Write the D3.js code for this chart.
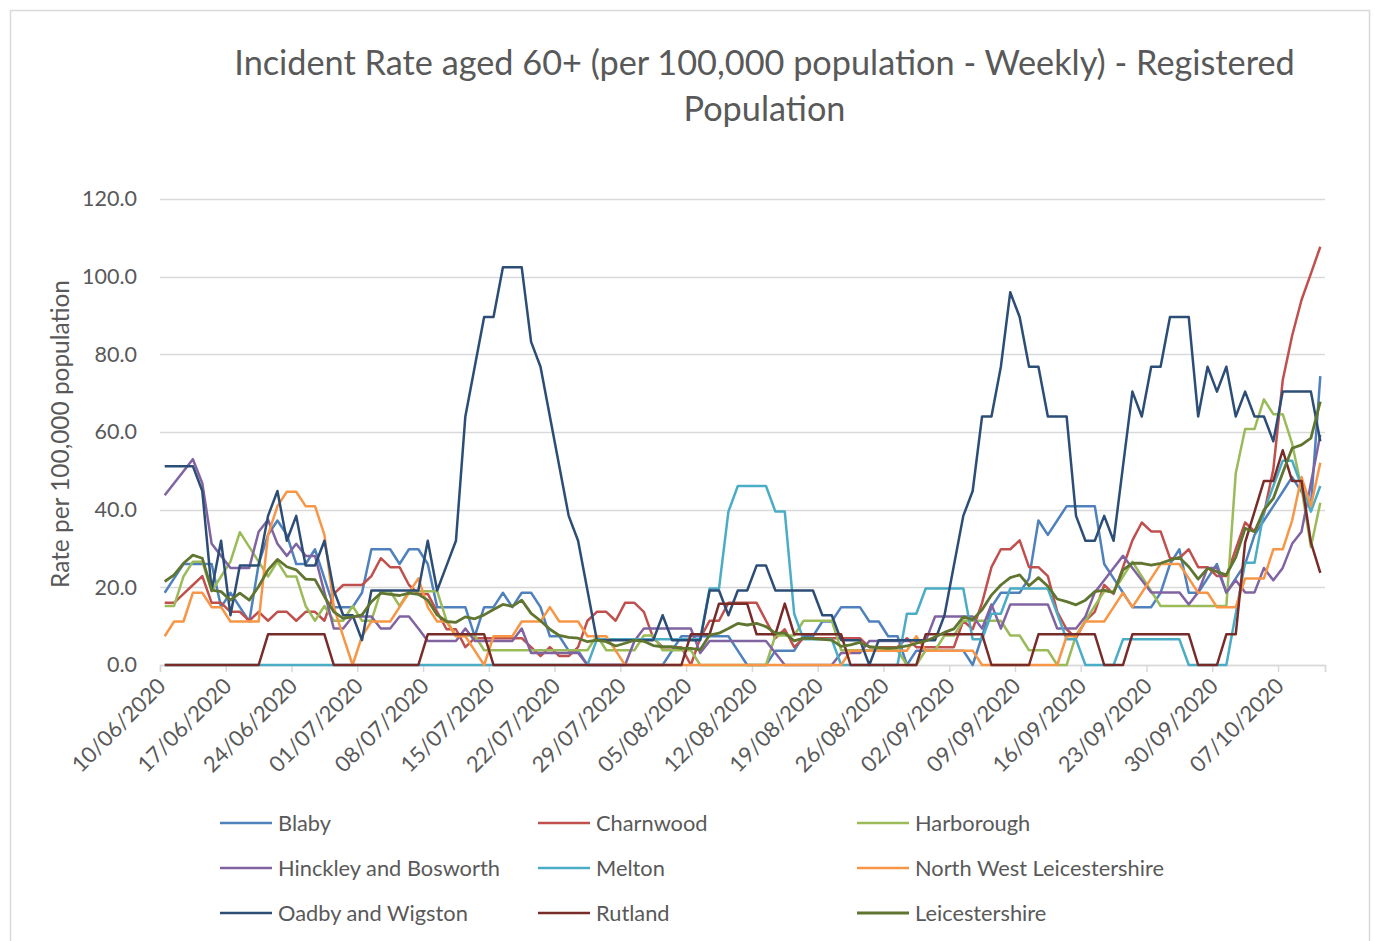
<!DOCTYPE html>
<html>
<head>
<meta charset="utf-8">
<script src="https://cdn.jsdelivr.net/npm/d3@7"></script>
<style>
  html, body { margin: 0; padding: 0; background: #ffffff; }
  svg { display: block; }
</style>
</head>
<body>
<svg id="chart" width="1375" height="941"></svg>
<script>
// ---------------- DATA ----------------
const titleLines = ["Incident Rate aged 60+ (per 100,000 population - Weekly) - Registered", "Population"];
const yAxisTitle = "Rate per 100,000 population";
const yTicks = [0, 20, 40, 60, 80, 100, 120];
const firstDay = new Date(2020, 5, 10);   // 10/06/2020
const dayAfterLast = new Date(2020, 9, 12); // data runs to 11/10/2020

const seriesNames = ["Blaby", "Charnwood", "Harborough", "Hinckley and Bosworth", "Melton",
  "North West Leicestershire", "Oadby and Wigston", "Rutland", "Leicestershire"];
const seriesColors = ["#4F81BD", "#C0504D", "#9BBB59", "#8064A2", "#4BACC6",
  "#F79646", "#2C4D75", "#772C2A", "#5F7530"];

const blaby = [18.6,22.3,26,26,26,26,14.9,18.6,14.9,11.2,
  26,33.5,37.2,33.5,26,26,29.8,22.3,14.9,14.9,
  14.9,18.6,29.8,29.8,29.8,26,29.8,29.8,26,14.9,
  14.9,14.9,14.9,7.4,14.9,14.9,18.6,14.9,18.6,18.6,
  14.9,7.4,7.4,3.7,3.7,0,0,0,0,0,
  0,0,0,0,3.7,7.4,7.4,7.4,7.4,7.4,
  7.4,3.7,0,0,0,3.7,3.7,3.7,7.4,7.4,
  11.2,11.2,14.9,14.9,14.9,11.2,11.2,7.4,7.4,0,
  3.7,3.7,3.7,3.7,3.7,3.7,0,7.4,14.9,18.6,
  18.6,18.6,22.3,37.2,33.5,37.2,40.9,40.9,40.9,40.9,
  26,22.3,18.6,14.9,14.9,14.9,18.6,26,29.8,18.6,
  18.6,22.3,26,18.6,22.3,26,33.5,37.2,40.9,44.6,
  48.4,44.6,40.9,74.4];

const charnwood = [16,16,18.3,20.6,22.9,16,16,13.7,13.7,11.4,
  13.7,11.4,13.7,13.7,11.4,13.7,13.7,11.4,18.3,20.6,
  20.6,20.6,22.9,27.5,25.2,25.2,20.6,18.3,18.3,13.7,
  9.2,9.2,4.6,6.9,6.9,6.9,6.9,6.9,6.9,4.6,
  2.3,4.6,2.3,2.3,4.6,11.4,13.7,13.7,11.4,16,
  16,13.7,6.9,4.6,4.6,4.6,0,6.9,11.4,11.4,
  16,16,16,16,11.4,6.9,9.2,4.6,6.9,6.9,
  6.9,6.9,6.9,6.9,6.9,4.6,4.6,4.6,4.6,6.9,
  4.6,4.6,4.6,4.6,4.6,11.4,9.2,16,25.2,29.8,
  29.8,32.1,25.2,25.2,22.9,13.7,9.2,6.9,11.4,13.7,
  20.6,18.3,25.2,32.1,36.7,34.4,34.4,27.5,27.5,29.8,
  25.2,25.2,22.9,22.9,29.8,36.7,34.4,38.9,50.4,73.3,
  84.8,94,100.8,107.7];

const harborough = [15.2,15.2,22.8,26.6,26.6,19,22.8,26.6,34.2,30.4,
  26.6,22.8,26.6,22.8,22.8,15.2,11.4,15.2,11.4,11.4,
  15.2,11.4,11.4,19,19,15.2,19,19,19,19,
  11.4,7.6,7.6,7.6,3.8,3.8,3.8,3.8,3.8,3.8,
  3.8,3.8,3.8,3.8,3.8,3.8,7.6,3.8,3.8,3.8,
  3.8,7.6,7.6,3.8,3.8,3.8,3.8,0,0,0,
  0,0,0,0,0,7.6,7.6,7.6,11.4,11.4,
  11.4,11.4,3.8,3.8,3.8,3.8,3.8,3.8,3.8,0,
  0,3.8,3.8,7.6,7.6,11.4,11.4,11.4,11.4,11.4,
  7.6,7.6,3.8,3.8,3.8,0,0,7.6,11.4,15.2,
  19,19,22.8,26.6,22.8,19,15.2,15.2,15.2,15.2,
  15.2,15.2,15.2,15.2,49.4,60.8,60.8,68.4,64.6,64.6,
  57,45.6,30.4,41.8];

const hinckley = [43.7,46.8,49.9,53,46.8,31.2,28.1,25,25,25,
  34.3,37.4,31.2,28.1,31.2,28.1,28.1,18.7,9.4,9.4,
  12.5,12.5,12.5,9.4,9.4,12.5,12.5,9.4,6.2,6.2,
  6.2,6.2,9.4,6.2,6.2,6.2,6.2,6.2,9.4,3.1,
  3.1,3.1,3.1,3.1,3.1,0,0,0,0,0,
  6.2,9.4,9.4,9.4,9.4,9.4,9.4,3.1,6.2,6.2,
  6.2,6.2,6.2,6.2,6.2,3.1,0,0,0,0,
  0,0,3.1,3.1,3.1,6.2,6.2,6.2,6.2,6.2,
  6.2,6.2,12.5,12.5,12.5,12.5,12.5,9.4,15.6,9.4,
  15.6,15.6,15.6,15.6,15.6,9.4,9.4,9.4,12.5,18.7,
  21.8,25,28.1,25,21.8,18.7,18.7,18.7,18.7,15.6,
  18.7,25,25,18.7,21.8,18.7,18.7,25,21.8,25,
  31.2,34.3,46.8,59.3];

const melton = [0,0,0,0,0,0,0,0,0,0,
  0,0,0,0,0,0,0,0,0,0,
  0,0,0,0,0,0,0,0,0,0,
  0,0,0,0,0,0,0,0,0,0,
  0,0,0,0,0,0,6.6,6.6,6.6,6.6,
  6.6,6.6,6.6,6.6,6.6,6.6,6.6,6.6,19.7,19.7,
  39.5,46.1,46.1,46.1,46.1,39.5,39.5,13.2,6.6,6.6,
  6.6,6.6,0,0,0,0,0,0,0,13.2,
  13.2,19.7,19.7,19.7,19.7,19.7,6.6,6.6,13.2,13.2,
  19.7,19.7,19.7,19.7,19.7,13.2,6.6,6.6,0,0,
  0,0,6.6,6.6,6.6,6.6,6.6,6.6,6.6,0,
  0,0,0,0,13.2,26.3,26.3,39.5,46.1,52.6,
  52.6,46.1,39.5,46.1];

const northWest = [7.4,11.2,11.2,18.6,18.6,14.9,14.9,11.2,11.2,11.2,
  11.2,33.5,40.9,44.6,44.6,40.9,40.9,33.5,14.9,7.4,
  0,7.4,11.2,11.2,11.2,14.9,18.6,22.3,14.9,11.2,
  11.2,7.4,7.4,3.7,0,7.4,7.4,7.4,11.2,11.2,
  11.2,14.9,11.2,11.2,11.2,7.4,7.4,7.4,3.7,0,
  0,0,0,0,0,0,0,0,0,0,
  0,0,0,0,0,0,0,0,0,0,
  0,0,0,3.7,3.7,3.7,3.7,3.7,3.7,3.7,
  7.4,3.7,3.7,3.7,3.7,3.7,3.7,0,0,0,
  0,0,0,0,0,0,7.4,7.4,11.2,11.2,
  11.2,14.9,18.6,14.9,18.6,22.3,26,26,26,22.3,
  18.6,18.6,14.9,14.9,14.9,22.3,22.3,22.3,29.8,29.8,
  37.2,48.4,40.9,52.1];

const oadby = [51.2,51.2,51.2,51.2,44.8,19.2,32,12.8,25.6,25.6,
  25.6,38.4,44.8,32,38.4,25.6,25.6,32,19.2,12.8,
  12.8,6.4,19.2,19.2,19.2,19.2,19.2,19.2,32,19.2,
  25.6,32,64,76.8,89.6,89.6,102.4,102.4,102.4,83.2,
  76.8,64,51.2,38.4,32,19.2,6.4,6.4,6.4,6.4,
  6.4,6.4,6.4,12.8,6.4,6.4,6.4,6.4,19.2,19.2,
  12.8,19.2,19.2,25.6,25.6,19.2,19.2,19.2,19.2,19.2,
  12.8,12.8,6.4,6.4,6.4,0,6.4,6.4,6.4,6.4,
  6.4,6.4,6.4,12.8,25.6,38.4,44.8,64,64,76.8,
  96,89.6,76.8,76.8,64,64,64,38.4,32,32,
  38.4,32,51.2,70.4,64,76.8,76.8,89.6,89.6,89.6,
  64,76.8,70.4,76.8,64,70.4,64,64,57.6,70.4,
  70.4,70.4,70.4,57.6];

const rutland = [0,0,0,0,0,0,0,0,0,0,
  0,7.9,7.9,7.9,7.9,7.9,7.9,7.9,0,0,
  0,0,0,0,0,0,0,0,7.9,7.9,
  7.9,7.9,7.9,7.9,7.9,0,0,0,0,0,
  0,0,0,0,0,0,0,0,0,0,
  0,0,0,0,0,0,7.9,7.9,7.9,15.8,
  15.8,15.8,15.8,7.9,7.9,7.9,15.8,7.9,7.9,7.9,
  7.9,7.9,7.9,0,0,0,0,0,0,0,
  0,7.9,7.9,7.9,7.9,7.9,7.9,7.9,0,0,
  0,0,0,7.9,7.9,7.9,7.9,7.9,7.9,7.9,
  0,0,0,7.9,7.9,7.9,7.9,7.9,7.9,7.9,
  0,0,0,7.9,7.9,31.6,39.5,47.4,47.4,55.3,
  47.4,47.4,31.6,23.7];

const leicestershire = [21.5,23.2,26.2,28.3,27.5,19.3,18.9,16.7,18.5,16.7,
  20.2,24.5,27.2,25.3,24.5,22.1,22,17.6,13.7,12,
  12.4,12.9,16.3,18.5,18.2,17.9,18.5,18.2,16.7,12.9,
  11.2,11,12.4,11.9,12.9,14.3,15.6,15.1,16.7,13.3,
  11.4,9.2,7.6,7.1,6.9,6,6.4,6,4.9,5.6,
  6.4,6.1,5,4.7,4.7,4.3,4.3,3.9,7.7,8.2,
  9.4,10.7,10.3,10.7,9.9,8.2,8.2,6.2,6.9,6.8,
  6.6,6.4,4.8,5.2,5.8,4.7,4.5,4.3,4.5,4.9,
  5.6,6.2,7.2,8.4,9.3,12.4,11.7,14.2,18,20.6,
  22.5,23.2,20.4,22.5,20.3,17,16.3,15.5,16.7,18.9,
  19.3,18.6,24.5,26.2,26.2,25.7,26.2,27,27.7,25.3,
  22.1,24.9,24,23.2,27.7,35.2,34.3,39.9,42.9,49.5,
  55.8,56.7,58.4,67.8];

const seriesValues = [blaby, charnwood, harborough, hinckley, melton, northWest, oadby, rutland, leicestershire];

// ---------------- DRAWING ----------------
const FONT = "Lato, 'Open Sans', sans-serif";
const TEXT = "#595959";
const GRID = "#D9D9D9";
const svg = d3.select("#chart");

svg.append("rect").attr("x", 10.5).attr("y", 10.5).attr("width", 1359).attr("height", 935)
  .attr("fill", "#fff").attr("stroke", GRID).attr("stroke-width", 1.5);

function fitSize(str, target) {
  const t = svg.append("text").attr("font-family", FONT).attr("font-size", 100).text(str);
  const w = t.node().getComputedTextLength();
  t.remove();
  return 100 * target / w;
}

const days = d3.timeDay.range(firstDay, dayAfterLast);
const weekTicks = d3.timeDay.range(firstDay, dayAfterLast, 7);
const plot = { left: 160, right: 1325, top: 199, bottom: 665 };

const x = d3.scaleTime().domain([firstDay, dayAfterLast]).range([plot.left, plot.right]);
const y = d3.scaleLinear().domain([0, 120]).range([plot.bottom, plot.top]);
const mid = d => d3.timeHour.offset(d, 12);

// title
const titleSize = fitSize(titleLines[0], 1061);
svg.append("g").selectAll("text").data(titleLines).join("text")
  .attr("x", 764.5).attr("y", (d, i) => 63 + i * 46).attr("dy", "0.35em")
  .attr("text-anchor", "middle").attr("font-family", FONT).attr("font-size", titleSize)
  .attr("fill", TEXT).text(d => d);

// gridlines
svg.append("g").selectAll("line").data(yTicks).join("line")
  .attr("x1", plot.left).attr("x2", plot.right)
  .attr("y1", d => Math.round(y(d)) + 0.5).attr("y2", d => Math.round(y(d)) + 0.5)
  .attr("stroke", GRID).attr("stroke-width", 1.5);

// y axis labels
const yTickSize = fitSize("120.0", 55);
const yAxis = d3.axisLeft(y).tickValues(yTicks).tickFormat(d3.format(".1f")).tickSize(0).tickPadding(23);
const yg = svg.append("g").attr("transform", `translate(${plot.left},0)`).call(yAxis);
yg.select(".domain").remove();
yg.selectAll("text").attr("font-family", FONT).attr("font-size", yTickSize).attr("fill", TEXT);

// y axis title
svg.append("text").attr("transform", "translate(60,434) rotate(-90)").attr("dy", "0.35em")
  .attr("text-anchor", "middle").attr("font-family", FONT).attr("font-size", fitSize(yAxisTitle, 308))
  .attr("fill", TEXT).text(yAxisTitle);

// x axis
const xAxis = d3.axisBottom(x).tickValues(weekTicks.concat([dayAfterLast])).tickSize(7).tickFormat("");
const xg = svg.append("g").attr("transform", `translate(0,${plot.bottom})`).call(xAxis);
xg.select(".domain").attr("stroke", GRID).attr("stroke-width", 1.5);
xg.selectAll(".tick line").attr("stroke", GRID).attr("stroke-width", 1.5);

const fmt = d3.timeFormat("%d/%m/%Y");
const xLabelSize = fitSize("10/06/2020", 122);
svg.append("g").selectAll("text").data(weekTicks).join("text")
  .attr("transform", d => `translate(${x(mid(d)) - 3},682) rotate(-45)`)
  .attr("dy", "0.35em").attr("text-anchor", "end")
  .attr("font-family", FONT).attr("font-size", xLabelSize).attr("fill", TEXT)
  .text(d => fmt(d));

// lines
const line = d3.line().x((d, i) => x(mid(days[i]))).y(d => y(d));
svg.append("g").selectAll("path").data(seriesValues).join("path")
  .attr("d", d => line(d)).attr("fill", "none")
  .attr("stroke", (d, i) => seriesColors[i])
  .attr("stroke-width", (d, i) => i === 8 ? 2.8 : 2.5)
  .attr("stroke-linejoin", "round");

// legend
const legendSize = fitSize("Hinckley and Bosworth", 222);
const colX = [220, 538, 857];
const rowY = [823, 868, 913];
const lg = svg.append("g").selectAll("g").data(seriesNames).join("g")
  .attr("transform", (d, i) => `translate(${colX[i % 3]},${rowY[Math.floor(i / 3)]})`);
lg.append("line").attr("x1", 0).attr("x2", 52).attr("y1", 0).attr("y2", 0)
  .attr("stroke", (d, i) => seriesColors[i]).attr("stroke-width", (d, i) => i === 8 ? 2.8 : 2.5);
lg.append("text").attr("x", 58).attr("dy", "0.35em")
  .attr("font-family", FONT).attr("font-size", legendSize).attr("fill", TEXT).text(d => d);
</script>
</body>
</html>
